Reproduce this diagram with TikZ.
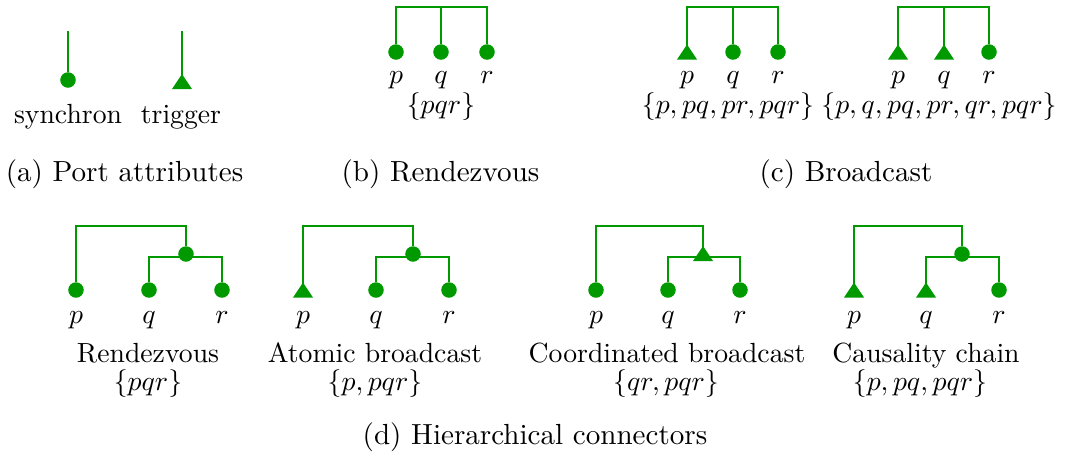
\documentclass[tikz,border=0pt]{standalone}
\definecolor{portgreen}{RGB}{0,153,0}
\tikzset{
  conn/.style={draw=portgreen, line width=0.72pt},
  dotport/.style={circle, fill=portgreen, inner sep=0pt, minimum size=5.6pt},
  lbl/.style={anchor=base, inner sep=0pt},
  captext/.style={anchor=base, inner sep=0pt, font=\fontsize{10.5}{12.5}\selectfont},
  trigport/.pic={\fill[portgreen] (-10,7.5) -- (10,7.5) -- (0,-7.5) -- cycle;}
}
\begin{document}
\begin{tikzpicture}[x=0.361pt,y=-0.361pt]
\useasboundingbox (0,0) rectangle (1071,456);
% ---------- (a) ----------
\node[dotport] (as) at (68,80) {};
\coordinate (ast) at (68,31);
\coordinate (at) at (182,81.5);
\coordinate (att) at (182,31);
\draw[conn] (ast) -- (as);
\draw[conn] (att) -- (at);
\pic at (at) {trigport};
\node[lbl] (lsyn) at (68,123) {synchron};
\node[lbl] (ltrig) at (181,123) {trigger};
\node[captext] (capa) at (124.5,181) {(a) Port attributes};
% ---------- (b) ----------
\node[dotport] (bp) at (396,52) {};
\node[dotport] (bq) at (441,52) {};
\node[dotport] (br) at (487,52) {};
\coordinate (bt) at (441,7);
\draw[conn] (bp) |- (bt) -| (br);
\draw[conn] (bq) -- (bt);
\node[lbl] (lbp) at (396,83) {$p$};
\node[lbl] (lbq) at (441,83) {$q$};
\node[lbl] (lbr) at (487,83) {$r$};
\node[lbl] (lbs) at (441,113) {$\{pqr\}$};
\node[captext] (capb) at (440.5,181) {(b) Rendezvous};
% ---------- (c) first ----------
\coordinate (cp) at (687,52);
\node[dotport] (cq) at (733,52) {};
\node[dotport] (cr) at (778,52) {};
\coordinate (ct) at (733,7);
\draw[conn] (cp) |- (ct) -| (cr);
\draw[conn] (cq) -- (ct);
\pic at (cp) {trigport};
\node[lbl] (lcp) at (687,83) {$p$};
\node[lbl] (lcq) at (733,83) {$q$};
\node[lbl] (lcr) at (778,83) {$r$};
\node[lbl] (lcs) at (728,113) {$\{p, pq, pr, pqr\}$};
% ---------- (c) second ----------
\coordinate (ep) at (898,52);
\coordinate (eq) at (944,52);
\node[dotport] (er) at (989,52) {};
\coordinate (et) at (944,7);
\draw[conn] (ep) |- (et) -| (er);
\draw[conn] (eq) -- (et);
\pic at (ep) {trigport};
\pic at (eq) {trigport};
\node[lbl] (lep) at (898,83) {$p$};
\node[lbl] (leq) at (944,83) {$q$};
\node[lbl] (ler) at (989,83) {$r$};
\node[lbl] (les) at (939,113) {$\{p, q, pq, pr, qr, pqr\}$};
\node[captext] (capc) at (846,181) {(c) Broadcast};
% ---------- (d) Rendezvous ----------
\node[dotport] (d1p) at (76,290) {};
\node[dotport] (d1q) at (149,290) {};
\node[dotport] (d1r) at (222,290) {};
\node[dotport] (d1n) at (186,254) {};
\coordinate (d1t) at (186,226);
\coordinate (d1b) at (186,257);
\draw[conn] (d1p) |- (d1t) -- (d1n);
\draw[conn] (d1q) |- (d1b) -| (d1r);
\node[lbl] (l1p) at (76,323) {$p$};
\node[lbl] (l1q) at (149,323) {$q$};
\node[lbl] (l1r) at (222,323) {$r$};
\node[lbl] (l1n) at (148,362) {Rendezvous};
\node[lbl] (l1s) at (148,390) {$\{pqr\}$};
% ---------- (d) Atomic broadcast ----------
\coordinate (d2p) at (303,290);
\node[dotport] (d2q) at (376,290) {};
\node[dotport] (d2r) at (449,290) {};
\node[dotport] (d2n) at (413,254) {};
\coordinate (d2t) at (413,226);
\coordinate (d2b) at (413,257);
\draw[conn] (d2p) |- (d2t) -- (d2n);
\draw[conn] (d2q) |- (d2b) -| (d2r);
\pic at (d2p) {trigport};
\node[lbl] (l2p) at (303,323) {$p$};
\node[lbl] (l2q) at (376,323) {$q$};
\node[lbl] (l2r) at (449,323) {$r$};
\node[lbl] (l2n) at (375,362) {Atomic broadcast};
\node[lbl] (l2s) at (375,390) {$\{p, pqr\}$};
% ---------- (d) Coordinated broadcast ----------
\node[dotport] (d3p) at (596,290) {};
\node[dotport] (d3q) at (668,290) {};
\node[dotport] (d3r) at (740,290) {};
\coordinate (d3n) at (703,253.5);
\coordinate (d3t) at (703,226);
\coordinate (d3b) at (703,257);
\draw[conn] (d3p) |- (d3t) -- (d3n);
\draw[conn] (d3q) |- (d3b) -| (d3r);
\pic at (d3n) {trigport};
\node[lbl] (l3p) at (596,323) {$p$};
\node[lbl] (l3q) at (668,323) {$q$};
\node[lbl] (l3r) at (740,323) {$r$};
\node[lbl] (l3n) at (667,362) {Coordinated broadcast};
\node[lbl] (l3s) at (666,390) {$\{qr, pqr\}$};
% ---------- (d) Causality chain ----------
\coordinate (d4p) at (854,290);
\coordinate (d4q) at (926,290);
\node[dotport] (d4r) at (999,290) {};
\node[dotport] (d4n) at (962,254) {};
\coordinate (d4t) at (962,226);
\coordinate (d4b) at (962,257);
\draw[conn] (d4p) |- (d4t) -- (d4n);
\draw[conn] (d4q) |- (d4b) -| (d4r);
\pic at (d4p) {trigport};
\pic at (d4q) {trigport};
\node[lbl] (l4p) at (854,323) {$p$};
\node[lbl] (l4q) at (926,323) {$q$};
\node[lbl] (l4r) at (999,323) {$r$};
\node[lbl] (l4n) at (926,362) {Causality chain};
\node[lbl] (l4s) at (920,390) {$\{p, pq, pqr\}$};
\node[captext] (capd) at (535,444) {(d) Hierarchical connectors};
\end{tikzpicture}
\end{document}
